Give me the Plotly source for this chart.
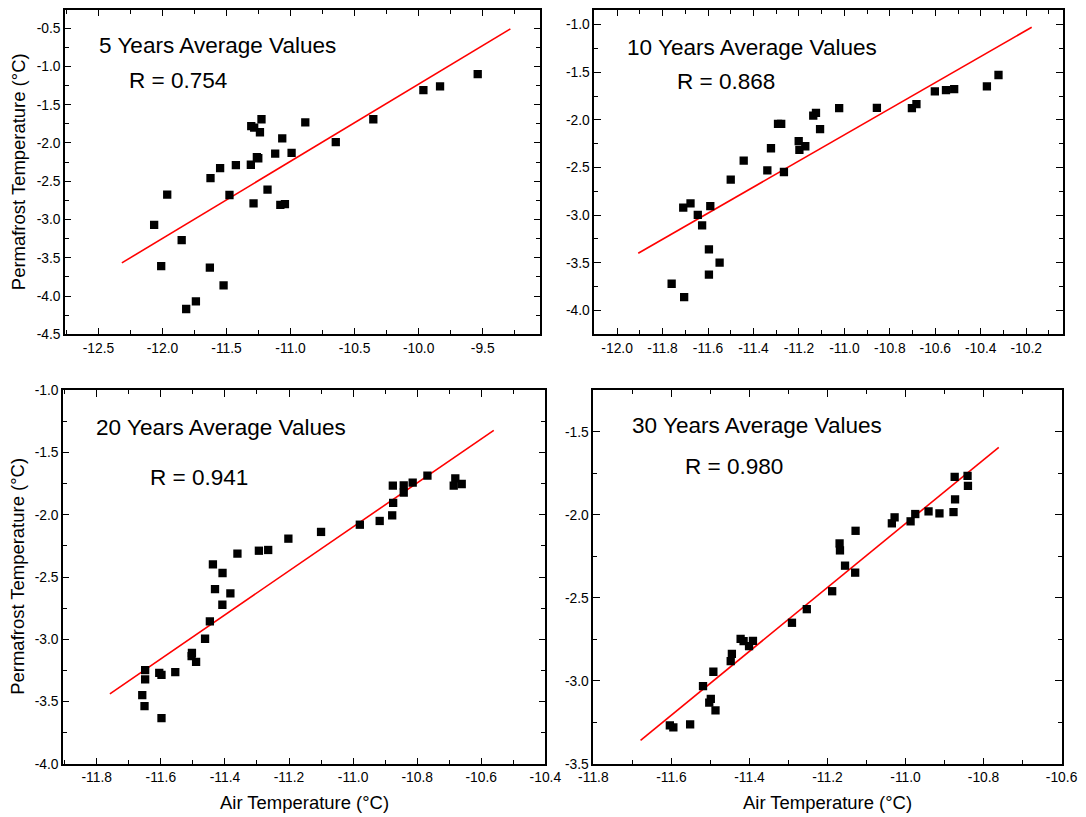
import plotly.graph_objects as go

# ---- 5 years average values ----
air_5yr = [-12.065, -11.963, -12.01, -11.85, -11.815, -11.739, -11.63, -11.523,
           -11.625, -11.55, -11.477, -11.427, -11.31, -11.289, -11.307, -11.284,
           -11.227, -11.239, -11.263, -11.252, -11.18, -11.12, -11.065, -11.08,
           -11.044, -10.992, -10.885, -10.647, -10.354, -9.963, -9.833, -9.539]
perm_5yr = [-3.07, -2.675, -3.61, -3.27, -4.17, -4.07, -3.63, -3.86,
            -2.46, -2.33, -2.68, -2.29, -2.285, -2.79, -1.78, -1.80,
            -1.69, -1.86, -2.185, -2.20, -2.61, -2.14, -1.94, -2.81,
            -2.80, -2.13, -1.73, -1.99, -1.69, -1.31, -1.26, -1.10]
fit_5yr_x = [-12.317, -9.284]
fit_5yr_y = [-3.567, -0.51]

# ---- 10 years average values ----
air_10yr = [-11.76, -11.705, -11.709, -11.677, -11.645, -11.626, -11.596, -11.59,
            -11.596, -11.549, -11.50, -11.443, -11.339, -11.323, -11.292, -11.278,
            -11.266, -11.201, -11.198, -11.172, -11.137, -11.125, -11.107, -11.023,
            -10.857, -10.703, -10.683, -10.602, -10.553, -10.517, -10.373, -10.322]
perm_10yr = [-3.72, -3.86, -2.92, -2.877, -2.997, -3.108, -3.36, -2.905,
             -3.624, -3.498, -2.628, -2.428, -2.53, -2.298, -2.042, -2.042,
             -2.547, -2.224, -2.316, -2.277, -1.955, -1.926, -2.098, -1.877,
             -1.874, -1.877, -1.835, -1.702, -1.687, -1.677, -1.649, -1.529]
fit_10yr_x = [-11.907, -10.176]
fit_10yr_y = [-3.40, -1.028]

# ---- 20 years average values ----
air_20yr = [-11.658, -11.651, -11.649, -11.649, -11.605, -11.598, -11.598, -11.555,
            -11.503, -11.504, -11.49, -11.462, -11.447, -11.4375, -11.431, -11.4075,
            -11.408, -11.383, -11.361, -11.294, -11.265, -11.202, -11.10, -10.979,
            -10.917, -10.878, -10.875, -10.876, -10.842, -10.842, -10.814, -10.768,
            -10.681, -10.686, -10.661]
perm_20yr = [-3.448, -3.536, -3.247, -3.322, -3.269, -3.285, -3.633, -3.263,
             -3.108, -3.134, -3.18, -2.995, -2.856, -2.398, -2.596, -2.467,
             -2.722, -2.631, -2.312, -2.288, -2.282, -2.191, -2.137, -2.079,
             -2.049, -2.004, -1.904, -1.765, -1.763, -1.822, -1.741, -1.685,
             -1.707, -1.765, -1.752]
fit_20yr_x = [-11.759, -10.561]
fit_20yr_y = [-3.437, -1.321]

# ---- 30 years average values ----
air_30yr = [-11.604, -11.595, -11.552, -11.519, -11.4925, -11.503, -11.499, -11.487,
            -11.448, -11.445, -11.4226, -11.415, -11.401, -11.391, -11.291, -11.253,
            -11.188, -11.169, -11.168, -11.155, -11.129, -11.128, -11.035, -11.028,
            -10.987, -10.975, -10.941, -10.913, -10.877, -10.874, -10.873, -10.841,
            -10.840]
perm_30yr = [-3.268, -3.28, -3.262, -3.031, -2.945, -3.131, -3.108, -3.178,
             -2.881, -2.837, -2.747, -2.761, -2.791, -2.759, -2.65, -2.568,
             -2.46, -2.172, -2.214, -2.306, -2.348, -2.096, -2.051, -2.015,
             -2.039, -1.995, -1.979, -1.991, -1.983, -1.771, -1.907, -1.765,
             -1.825]
fit_30yr_x = [-11.679, -10.761]
fit_30yr_y = [-3.358, -1.593]

panel_titles = ["5 Years Average Values", "10 Years Average Values",
                "20 Years Average Values", "30 Years Average Values"]
r_labels = ["R = 0.754", "R = 0.868", "R = 0.941", "R = 0.980"]

# tick values / labels per panel
x1_ticks = [-12.5, -12.0, -11.5, -11.0, -10.5, -10.0, -9.5]
y1_ticks = [-0.5, -1.0, -1.5, -2.0, -2.5, -3.0, -3.5, -4.0, -4.5]
x2_ticks = [-12.0, -11.8, -11.6, -11.4, -11.2, -11.0, -10.8, -10.6, -10.4, -10.2]
y2_ticks = [-1.0, -1.5, -2.0, -2.5, -3.0, -3.5, -4.0]
x3_ticks = [-11.8, -11.6, -11.4, -11.2, -11.0, -10.8, -10.6, -10.4]
y3_ticks = [-1.0, -1.5, -2.0, -2.5, -3.0, -3.5, -4.0]
x4_ticks = [-11.8, -11.6, -11.4, -11.2, -11.0, -10.8, -10.6]
y4_ticks = [-1.5, -2.0, -2.5, -3.0, -3.5]

FONT = "Arial, Liberation Sans, sans-serif"
W, H = 1086, 817
K = 1 / 0.975  # the page comes out slightly shrunk in the photo


# map a wanted on-screen pixel to a layout pixel (measured from earlier renders)
def LX(t):
    return (t - 15.9) / 0.971


def LY(t):
    return (t - 7.2) / 0.979


def lab(v):
    return f"{v:.1f}"


def axis(domain, rng, ticks, minor_step, anchor):
    return dict(
        domain=domain, range=rng, anchor=anchor,
        tickmode="array", tickvals=ticks, ticktext=[lab(t) for t in ticks],
        ticks="inside", ticklen=6.5, tickwidth=1.3, tickcolor="black",
        minor=dict(ticks="inside", ticklen=4, tickwidth=1.2, tickcolor="black",
                   dtick=minor_step, tick0=ticks[0], showgrid=False),
        showline=True, linecolor="black", linewidth=1.7, mirror="allticks",
        showgrid=False, zeroline=False,
        tickfont=dict(family=FONT, size=13.5 * K, color="black"),
    )


# panel boxes in target pixels: left, right, top, bottom
boxes = [(66, 541, 9, 333), (595, 1063, 9, 333),
         (64, 546, 389, 762), (594, 1062, 389, 762)]


def xd(b):
    return [max(0, LX(b[0]) / W), min(1, LX(b[1]) / W)]


def yd(b):
    return [max(0, 1 - LY(b[3]) / H), min(1, 1 - LY(b[2]) / H)]


fig = go.Figure()

series = [(air_5yr, perm_5yr, fit_5yr_x, fit_5yr_y),
          (air_10yr, perm_10yr, fit_10yr_x, fit_10yr_y),
          (air_20yr, perm_20yr, fit_20yr_x, fit_20yr_y),
          (air_30yr, perm_30yr, fit_30yr_x, fit_30yr_y)]

for i, (ax, py, fx, fy) in enumerate(series):
    sx = "x" if i == 0 else f"x{i + 1}"
    sy = "y" if i == 0 else f"y{i + 1}"
    fig.add_trace(go.Scatter(x=fx, y=fy, mode="lines", xaxis=sx, yaxis=sy,
                             line=dict(color="#ff0000", width=1.6), showlegend=False))
    fig.add_trace(go.Scatter(x=ax, y=py, mode="markers", xaxis=sx, yaxis=sy,
                             marker=dict(symbol="square", size=8.3, color="black"),
                             showlegend=False))

ranges = [([-12.76, -9.05], [-4.5, -0.26], x1_ticks, y1_ticks, 0.25, 0.25),
          ([-12.10, -10.04], [-4.25, -0.845], x2_ticks, y2_ticks, 0.1, 0.25),
          ([-11.905, -10.4], [-4.0, -1.0], x3_ticks, y3_ticks, 0.1, 0.25),
          ([-11.8, -10.6], [-3.5, -1.25], x4_ticks, y4_ticks, 0.1, 0.25)]

layout = {}
for i, (xr, yr, xt, yt, xm, ym) in enumerate(ranges):
    kx = "xaxis" if i == 0 else f"xaxis{i + 1}"
    ky = "yaxis" if i == 0 else f"yaxis{i + 1}"
    ax_anchor = "y" if i == 0 else f"y{i + 1}"
    ay_anchor = "x" if i == 0 else f"x{i + 1}"
    layout[kx] = axis(xd(boxes[i]), xr, xt, xm, ax_anchor)
    layout[ky] = axis(yd(boxes[i]), yr, yt, ym, ay_anchor)

fig.update_layout(**layout)

# titles and R values inside each panel (target pixel positions)
title_pos = [(98, 45), (626, 47), (95, 426), (631, 424)]
r_pos = [(128, 80), (676, 81), (149, 476), (684, 465)]
annotations = []
for i in range(4):
    annotations.append(dict(text=panel_titles[i], xref="paper", yref="paper",
                            x=LX(title_pos[i][0]) / W, y=1 - LY(title_pos[i][1]) / H,
                            xanchor="left", yanchor="middle", showarrow=False,
                            font=dict(family=FONT, size=22 * K, color="black")))
    annotations.append(dict(text=r_labels[i], xref="paper", yref="paper",
                            x=LX(r_pos[i][0]) / W, y=1 - LY(r_pos[i][1]) / H,
                            xanchor="left", yanchor="middle", showarrow=False,
                            font=dict(family=FONT, size=22 * K, color="black")))

# axis titles
for yc in (171, 575):
    annotations.append(dict(text="Permafrost Temperature (°C)", xref="paper", yref="paper",
                            x=LX(19) / W, y=1 - LY(yc) / H, textangle=-90,
                            xanchor="center", yanchor="middle", showarrow=False,
                            font=dict(family=FONT, size=18 * K, color="black")))
for xc in (305, 828):
    annotations.append(dict(text="Air Temperature (°C)", xref="paper", yref="paper",
                            x=LX(xc) / W, y=1 - LY(801) / H,
                            xanchor="center", yanchor="middle", showarrow=False,
                            font=dict(family=FONT, size=18 * K, color="black")))

fig.update_layout(
    width=W, height=H,
    margin=dict(l=0, r=0, t=0, b=0),
    paper_bgcolor="white", plot_bgcolor="white",
    annotations=annotations,
)

fig.write_html("out.html", config={"displayModeBar": False},
               post_script="document.body.style.margin='0';document.body.style.overflow='hidden';")
